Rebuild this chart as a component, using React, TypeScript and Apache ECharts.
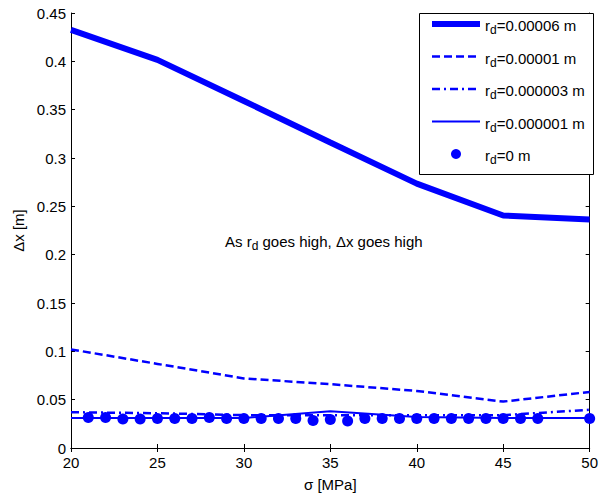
import React, { useEffect, useRef } from "react";
import * as echarts from "echarts";

const sigma = [20, 25, 30, 35, 40, 45, 50];
const rd00006 = [0.4325, 0.4015, 0.359, 0.316, 0.2735, 0.2405, 0.2364];
const rd00001 = [0.102, 0.087, 0.072, 0.066, 0.059, 0.048, 0.058];
const rd000003 = [0.037, 0.036, 0.034, 0.034, 0.034, 0.034, 0.0395];
const rd000001 = [0.031, 0.031, 0.031, 0.038, 0.032, 0.031, 0.031];
const rd0x = [21, 22, 23, 24, 25, 26, 27, 28, 29, 30, 31, 32, 33, 34, 35, 36, 37, 38, 39, 40, 41, 42, 43, 44, 45, 46, 47, 50];
const rd0y = [0.0315, 0.0315, 0.030, 0.030, 0.0305, 0.0305, 0.0305, 0.0315, 0.0305, 0.0305, 0.0305, 0.0305, 0.0305, 0.0285, 0.0295, 0.028, 0.0305, 0.0305, 0.0305, 0.0305, 0.0305, 0.0305, 0.0305, 0.0305, 0.0305, 0.0305, 0.0305, 0.0305];
const names = ["r_d=0.00006 m", "r_d=0.00001 m", "r_d=0.000003 m", "r_d=0.000001 m", "r_d=0 m"];
const xTicks = { min: 20, max: 50, interval: 5 };
const yTicks = { min: 0, max: 0.45, interval: 0.05 };

const BLUE = "#0000ff";
const FONT = "Liberation Sans, Arial, sans-serif";

export default function App() {
  const ref = useRef<HTMLDivElement>(null);
  useEffect(() => {
    if (!ref.current) return;
    const chart = echarts.init(ref.current, undefined, { renderer: "svg" });
    const pair = (xs: number[], ys: number[]) => xs.map((x, i) => [x, ys[i]]);
    const axisCommon = {
      axisLine: { show: true, lineStyle: { color: "#000", width: 1 } },
      axisTick: { show: true, inside: true, length: 4, lineStyle: { color: "#000" } },
      splitLine: { show: false },
    };
    const richMain = { fontSize: 15, fontFamily: FONT, lineHeight: 16, padding: [2, 0, 8, 0], verticalAlign: "top" };
    const richSub = { fontSize: 12, fontFamily: FONT, lineHeight: 16, padding: [8, 0, 0, 0], verticalAlign: "top" };
    chart.setOption({
      animation: false,
      backgroundColor: "#fff",
      textStyle: { fontFamily: FONT },
      grid: { left: 71, right: 8, top: 13, bottom: 48 },
      xAxis: [
        {
          type: "value",
          ...xTicks,
          name: "σ [MPa]",
          nameLocation: "middle",
          nameGap: 29,
          nameTextStyle: { color: "#000", fontSize: 15, fontFamily: FONT },
          axisLabel: { color: "#000", fontSize: 15, margin: 7, fontFamily: FONT },
          ...axisCommon,
        },
        {
          type: "value",
          ...xTicks,
          position: "top",
          axisLabel: { show: false },
          ...axisCommon,
        },
      ],
      yAxis: [
        {
          type: "value",
          ...yTicks,
          name: "Δx [m]",
          nameLocation: "middle",
          nameGap: 42,
          nameTextStyle: { color: "#000", fontSize: 15, fontFamily: FONT },
          axisLabel: { color: "#000", fontSize: 15, margin: 5, fontFamily: FONT },
          ...axisCommon,
        },
        {
          type: "value",
          ...yTicks,
          position: "right",
          axisLabel: { show: false },
          ...axisCommon,
        },
      ],
      legend: {
        orient: "vertical",
        left: 429,
        top: 16,
        itemWidth: 48,
        itemHeight: 10,
        itemGap: 7.5,
        padding: 0,
        z: 10,
        data: names.map((n, i) =>
          i === 4 ? { name: n, icon: "circle" } : { name: n, itemStyle: { opacity: 0 } }
        ),
        lineStyle: { width: "inherit", type: "inherit" },
        formatter: (name: string) => `{a|r}{s|d}{a|${name.slice(3)}}`,
        textStyle: {
          color: "#000",
          fontFamily: FONT,
          rich: {
            a: { ...richMain, color: "#000" },
            s: { ...richSub, color: "#000" },
          },
        },
      },
      graphic: [
        {
          type: "rect",
          left: 419,
          top: 13,
          shape: { width: 174, height: 161 },
          style: { fill: "#fff", stroke: "#000", lineWidth: 1 },
          z: 8,
        },
        {
          type: "text",
          left: 225,
          top: 232,
          style: {
            text: "{a|As r}{s|d}{a| goes high, Δx goes high}",
            fill: "#000",
            rich: {
              a: { ...richMain, fill: "#000" },
              s: { ...richSub, fill: "#000" },
            },
          },
          z: 8,
        },
      ],
      series: [
        {
          name: names[0],
          type: "line",
          data: pair(sigma, rd00006),
          symbol: "none",
          lineStyle: { color: BLUE, width: 6 },
          itemStyle: { color: BLUE },
          z: 3,
        },
        {
          name: names[1],
          type: "line",
          data: pair(sigma, rd00001),
          symbol: "none",
          lineStyle: { color: BLUE, width: 2.5, type: [8, 4] },
          itemStyle: { color: BLUE },
          z: 3,
        },
        {
          name: names[2],
          type: "line",
          data: pair(sigma, rd000003),
          symbol: "none",
          lineStyle: { color: BLUE, width: 2.5, type: [8, 4, 2, 4] },
          itemStyle: { color: BLUE },
          z: 3,
        },
        {
          name: names[3],
          type: "line",
          data: pair(sigma, rd000001),
          symbol: "none",
          lineStyle: { color: BLUE, width: 2 },
          itemStyle: { color: BLUE },
          z: 3,
        },
        {
          name: names[4],
          type: "scatter",
          data: pair(rd0x, rd0y),
          symbol: "circle",
          symbolSize: 11,
          itemStyle: { color: BLUE, opacity: 1 },
          z: 4,
        },
      ],
    });
    return () => chart.dispose();
  }, []);
  return <div ref={ref} style={{ position: "absolute", left: 0, top: 0, width: 601, height: 497 }} />;
}
